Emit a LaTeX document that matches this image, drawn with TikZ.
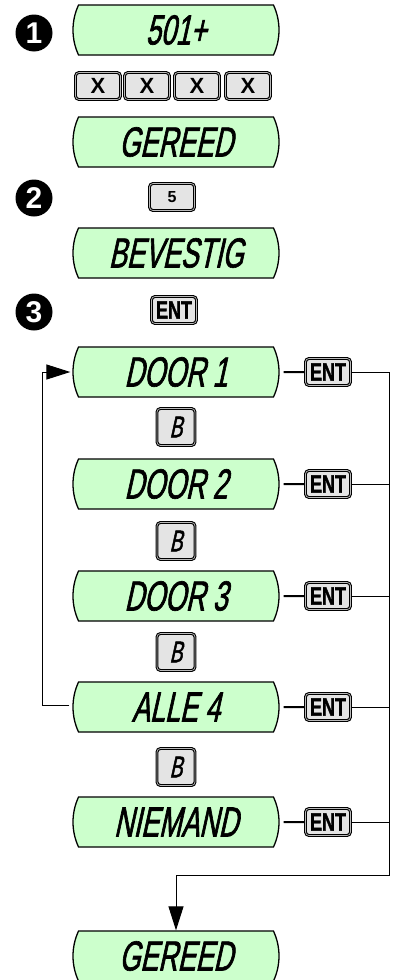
\documentclass[tikz,border=0pt]{standalone}
\usepackage{fontspec}
\setmainfont{Liberation Sans}
\newfontfamily\lcdfont[FakeStretch=0.64,FakeSlant=0.22,FakeBold=1.5]{Liberation Sans}
\newfontfamily\entfont[FakeStretch=0.72,FakeBold=1.5]{Liberation Sans Bold}
\usetikzlibrary{shapes.misc,arrows.meta}
\definecolor{lcdgreen}{RGB}{204,255,204}
\definecolor{keygray}{RGB}{228,228,228}
\tikzset{
  lcd/.style={rounded rectangle, rounded rectangle arc length=50, draw, line width=1.3pt,
    fill=lcdgreen, minimum width=206pt, minimum height=50pt, inner sep=0pt,
    font=\lcdfont\fontsize{42}{42}\selectfont},
  key/.style={draw, line width=1.1pt, double=gray!55, double distance=0.7pt,
    rounded corners=3.5pt, fill=keygray, inner sep=0pt, minimum width=45pt, minimum height=27pt},
  entkey/.style={key, font=\entfont\fontsize{25}{25}\selectfont},
  bkey/.style={key, minimum width=38pt, minimum height=37pt, font=\lcdfont\fontsize{30}{30}\selectfont},
  stepnum/.style={circle, fill=black, text=white, minimum size=37pt, inner sep=0pt,
    font=\bfseries\fontsize{30}{30}\selectfont},
  tip/.style={-{Triangle[length=24pt,width=15pt]}}
}
\begin{document}
\begin{tikzpicture}[x=1pt,y=-1pt]
\useasboundingbox (0,0) rectangle (393,980);

% step 1
\node (s1) [stepnum] at (34,33) {1};
\node (code) [lcd] at (176,30) {501+};
\node (x1) [key, font=\bfseries\fontsize{22}{22}\selectfont] at (98,86) {X};
\node (x2) [key, font=\bfseries\fontsize{22}{22}\selectfont] at (147,86) {X};
\node (x3) [key, font=\bfseries\fontsize{22}{22}\selectfont] at (197,86) {X};
\node (x4) [key, font=\bfseries\fontsize{22}{22}\selectfont] at (248,86) {X};
\node (ready1) [lcd] at (176,142) {GEREED};

% step 2
\node (s2) [stepnum] at (34,198) {2};
\node (five) [key, font=\bfseries\fontsize{16}{16}\selectfont] at (172,197) {5};
\node (confirm) [lcd] at (176,253) {BEVESTIG};

% step 3
\node (s3) [stepnum] at (34,312) {3};
\node (ent0) [entkey] at (174,310) {ENT};

\node (door1) [lcd] at (176,372) {DOOR 1};
\node (b1) [bkey] at (176,427) {B};
\node (door2) [lcd] at (176,484) {DOOR 2};
\node (b2) [bkey] at (176,541) {B};
\node (door3) [lcd] at (176,596) {DOOR 3};
\node (b3) [bkey] at (176,652) {B};
\node (all) [lcd] at (176,707) {ALLE 4};
\node (b4) [bkey] at (176,767) {B};
\node (nobody) [lcd] at (176,822) {NIEMAND};
\node (ready2) [lcd] at (176,956) {GEREED};

\node (ent1) [entkey] at (328,372) {ENT};
\node (ent2) [entkey] at (328,484) {ENT};
\node (ent3) [entkey] at (328,596) {ENT};
\node (ent4) [entkey] at (328,707) {ENT};
\node (ent5) [entkey] at (328,822) {ENT};

% ENT lines to the bus on the right
\coordinate (busTop) at (389,372);
\coordinate (busBot) at (389,875);
\draw [line width=2pt, shorten <=4pt] (door1) -- (ent1);
\draw [line width=2pt, shorten <=4pt] (door2) -- (ent2);
\draw [line width=2pt, shorten <=4pt] (door3) -- (ent3);
\draw [line width=2pt, shorten <=4pt] (all) -- (ent4);
\draw [line width=2pt, shorten <=4pt] (nobody) -- (ent5);
\draw [line width=1pt] (ent2.east) -- (ent2.east -| busTop);
\draw [line width=1pt] (ent3.east) -- (ent3.east -| busTop);
\draw [line width=1pt] (ent4.east) -- (ent4.east -| busTop);
\draw [line width=1pt] (ent5.east) -- (ent5.east -| busTop);
\draw [line width=1pt, tip] (ent1.east) -- (busTop) -- (busBot) -| (ready2.north);

% loop back from ALLE 4 to DOOR 1
\coordinate (loopBot) at (42,705);
\coordinate (loopTop) at (42,372);
\draw [line width=1pt, tip, shorten >=2pt] (all.west) ++(-3,-2) -- (loopBot) -- (loopTop) -- (door1.west);
\end{tikzpicture}
\end{document}
